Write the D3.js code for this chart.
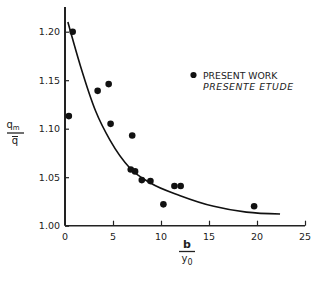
<!DOCTYPE html>
<html><head><meta charset="utf-8">
<script src="https://cdn.jsdelivr.net/npm/d3@7"></script>
<style>
body{margin:0;background:#fff;}
svg{display:block;font-family:"DejaVu Sans",sans-serif;}
</style></head>
<body><svg id="c" width="311" height="282"></svg>
<script>
const pointsX = [0.8, 0.4, 3.4, 4.55, 4.75, 7.0, 6.85, 7.3, 8.0, 8.9, 10.25, 11.4, 12.05, 19.7];
const pointsY = [1.200, 1.113, 1.139, 1.146, 1.105, 1.093, 1.058, 1.056, 1.047, 1.046, 1.022, 1.041, 1.041, 1.020];
const curveX = [0.3, 1.6, 3.2, 4.7, 6.8, 8.9, 12.0, 15.5, 18.9, 22.4];
const curveY = [1.210, 1.165, 1.118, 1.088, 1.059, 1.044, 1.031, 1.020, 1.014, 1.012];
const xTicks = [0, 5, 10, 15, 20, 25];
const yTicks = [1.00, 1.05, 1.10, 1.15, 1.20];
const legendLabels = ["PRESENT WORK", "PRESENTE ETUDE"];

const svg = d3.select("#c");
const x = d3.scaleLinear().domain([0, 25]).range([65, 305]);
const y = d3.scaleLinear().domain([1.00, 1.20]).range([225.7, 31.7]);

// axes lines
svg.append("line").attr("x1", x(0)).attr("x2", x(0)).attr("y1", y(1.00)).attr("y2", y(1.2255))
  .attr("stroke", "#222").attr("stroke-width", 2);
svg.append("line").attr("x1", x(0)).attr("x2", x(25)).attr("y1", y(1.00)).attr("y2", y(1.00))
  .attr("stroke", "#222").attr("stroke-width", 1.6);

// y ticks
const yAxis = d3.axisRight(y).tickValues(yTicks).tickSize(4).tickFormat("");
const gy = svg.append("g").attr("transform", `translate(${x(0)},0)`).call(yAxis);
gy.select(".domain").remove();
gy.selectAll("line").attr("stroke", "#222").attr("stroke-width", 1.2);
svg.selectAll("text.yl").data(yTicks).enter().append("text").attr("class", "yl")
  .attr("x", 60).attr("y", d => y(d) + 3.5).attr("text-anchor", "end")
  .attr("font-size", 9.5).attr("fill", "#222").text(d3.format(".2f"));

// x ticks
const xAxis = d3.axisTop(x).tickValues(xTicks.slice(1)).tickSize(5).tickFormat("");
const gx = svg.append("g").attr("transform", `translate(0,${y(1.00)})`).call(xAxis);
gx.select(".domain").remove();
gx.selectAll("line").attr("stroke", "#222").attr("stroke-width", 1.2);
svg.selectAll("text.xl").data(xTicks).enter().append("text").attr("class", "xl")
  .attr("x", d => x(d)).attr("y", 240).attr("text-anchor", "middle")
  .attr("font-size", 9.5).attr("fill", "#222").text(d => d);

// curve
const cdata = curveX.map((v, i) => [v, curveY[i]]);
svg.append("path").datum(cdata)
  .attr("d", d3.line().x(d => x(d[0])).y(d => y(d[1])).curve(d3.curveMonotoneX))
  .attr("fill", "none").attr("stroke", "#111").attr("stroke-width", 1.6);

// points
const pdata = pointsX.map((v, i) => [v, pointsY[i]]);
svg.selectAll("circle.p").data(pdata).enter().append("circle").attr("class", "p")
  .attr("cx", d => x(d[0])).attr("cy", d => y(d[1])).attr("r", 3.3).attr("fill", "#111");

// legend
svg.append("circle").attr("cx", 193.5).attr("cy", 75).attr("r", 3.1).attr("fill", "#111");
svg.append("text").attr("x", 203).attr("y", 78.5).attr("font-size", 9.3).attr("fill", "#222")
  .text(legendLabels[0]);
svg.append("text").attr("x", 203).attr("y", 90).attr("font-size", 9.3).attr("fill", "#222")
  .attr("font-style", "italic").attr("textLength", 90).text(legendLabels[1]);

// x axis label b / y0
svg.append("text").attr("x", 187).attr("y", 248).attr("text-anchor", "middle")
  .attr("font-size", 11).attr("font-weight", "bold").attr("fill", "#222").text("b");
svg.append("line").attr("x1", 179).attr("x2", 195).attr("y1", 251.5).attr("y2", 251.5)
  .attr("stroke", "#222").attr("stroke-width", 1.3);
const yl = svg.append("text").attr("x", 187).attr("y", 262).attr("text-anchor", "middle")
  .attr("font-size", 10).attr("fill", "#222");
yl.append("tspan").text("y");
yl.append("tspan").attr("font-size", 8).attr("dy", 3).text("0");

// y axis label qm / q̄
const ql = svg.append("text").attr("x", 13).attr("y", 128).attr("text-anchor", "middle")
  .attr("font-size", 10).attr("fill", "#222");
ql.append("tspan").text("q");
ql.append("tspan").attr("font-size", 7).attr("dy", 2).text("m");
svg.append("line").attr("x1", 7).attr("x2", 24).attr("y1", 133).attr("y2", 133)
  .attr("stroke", "#222").attr("stroke-width", 1.3);
svg.append("text").attr("x", 15).attr("y", 144).attr("text-anchor", "middle")
  .attr("font-size", 10).attr("fill", "#222").text("q");
svg.append("line").attr("x1", 12).attr("x2", 18).attr("y1", 136.5).attr("y2", 136.5)
  .attr("stroke", "#222").attr("stroke-width", 1);
</script></body></html>
